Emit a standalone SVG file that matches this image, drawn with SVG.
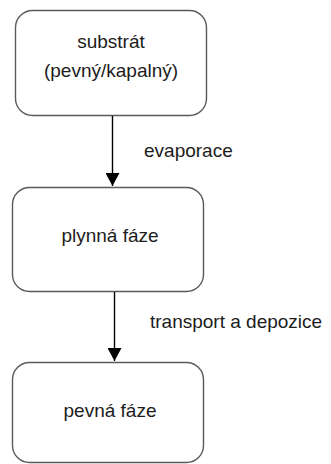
<svg xmlns="http://www.w3.org/2000/svg" width="331" height="464" viewBox="0 0 331 464">
<style>
.box{fill:#fff;stroke:#5a5a5a;stroke-width:1.4}
.t{font-family:"Liberation Sans",Arial,sans-serif;font-size:19px;fill:#1c1c1c}
.c{text-anchor:middle}
.edge{stroke:#000;stroke-width:1.4;fill:none}
</style>
<defs>
<marker id="ah" markerWidth="15" markerHeight="14" refX="13" refY="7" orient="auto" markerUnits="userSpaceOnUse">
<path d="M0,0 L13,7 L0,14 Z" fill="#000"/>
</marker>
</defs>
<rect width="331" height="464" fill="#fff"/>
<g id="n1">
<rect class="box" x="15.5" y="10.5" width="191" height="105" rx="17"/>
<text class="t c" x="111" y="48">substrát</text>
<text class="t c" x="111" y="77">(pevný/kapalný)</text>
</g>
<g id="n2">
<rect class="box" x="12.5" y="187.5" width="191" height="104" rx="17"/>
<text class="t c" x="110" y="242">plynná fáze</text>
</g>
<g id="n3">
<rect class="box" x="12.5" y="362.5" width="191" height="100" rx="17"/>
<text class="t c" x="110" y="417">pevná fáze</text>
</g>
<g id="edges">
<line class="edge" x1="112.5" y1="116" x2="112.5" y2="186" marker-end="url(#ah)"/>
<text class="t" x="144" y="157">evaporace</text>
<line class="edge" x1="114.5" y1="292" x2="114.5" y2="361" marker-end="url(#ah)"/>
<text class="t" x="150" y="328">transport a depozice</text>
</g>
</svg>
